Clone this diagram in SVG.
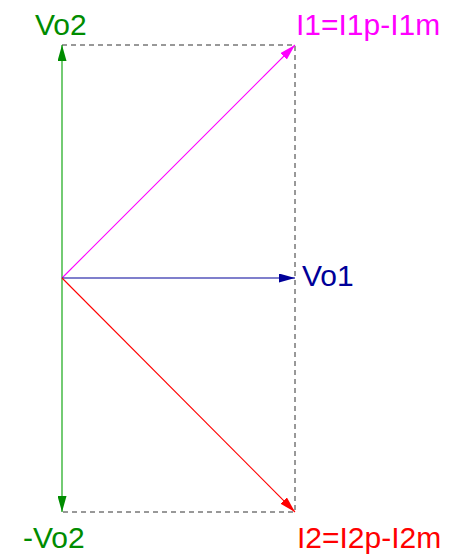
<svg xmlns="http://www.w3.org/2000/svg" width="464" height="556" viewBox="0 0 464 556">
<style>
text{font-family:"Liberation Sans",Arial,sans-serif;font-size:30px}
.v{stroke-width:1.1;fill:none}
.g{stroke:#00a000}
.m{stroke:#ff00ff}
.b{stroke:#000099}
.r{stroke:#ff0000}
.d{stroke:#333;stroke-width:1;stroke-dasharray:5 4;fill:none}
</style>
<defs>
<marker id="ag" markerUnits="userSpaceOnUse" markerWidth="16" markerHeight="9" refX="16" refY="4.5" orient="auto"><path d="M0,0L16,4.5L0,9z" fill="#008c00"/></marker>
<marker id="am" markerUnits="userSpaceOnUse" markerWidth="16" markerHeight="9" refX="16" refY="4.5" orient="auto"><path d="M0,0L16,4.5L0,9z" fill="#ff00ff"/></marker>
<marker id="ab" markerUnits="userSpaceOnUse" markerWidth="16" markerHeight="9" refX="16" refY="4.5" orient="auto"><path d="M0,0L16,4.5L0,9z" fill="#000099"/></marker>
<marker id="ar" markerUnits="userSpaceOnUse" markerWidth="16" markerHeight="9" refX="16" refY="4.5" orient="auto"><path d="M0,0L16,4.5L0,9z" fill="#ff0000"/></marker>
</defs>
<rect width="464" height="556" fill="#fff"/>
<g id="connectors">
<path class="d" d="M62,45H295V512H62"/>
<line class="v g" x1="62" y1="278" x2="62" y2="45" marker-end="url(#ag)"/>
<line class="v g" x1="62" y1="278" x2="62" y2="512" marker-end="url(#ag)"/>
<line class="v m" x1="62" y1="278" x2="295" y2="45" marker-end="url(#am)"/>
<line class="v b" x1="62" y1="278" x2="295" y2="278" marker-end="url(#ab)"/>
<line class="v r" x1="62" y1="278" x2="295" y2="512" marker-end="url(#ar)"/>
</g>
<g id="vo2"><text x="35" y="35" fill="#008c00">Vo2</text></g>
<g id="i1"><text x="296" y="35" fill="#ff00ff">I1=I1p-I1m</text></g>
<g id="vo1"><text x="302" y="286" fill="#000099">Vo1</text></g>
<g id="mvo2"><text x="23" y="548" fill="#008c00">-Vo2</text></g>
<g id="i2"><text x="297" y="548" fill="#ff0000">I2=I2p-I2m</text></g>
</svg>
